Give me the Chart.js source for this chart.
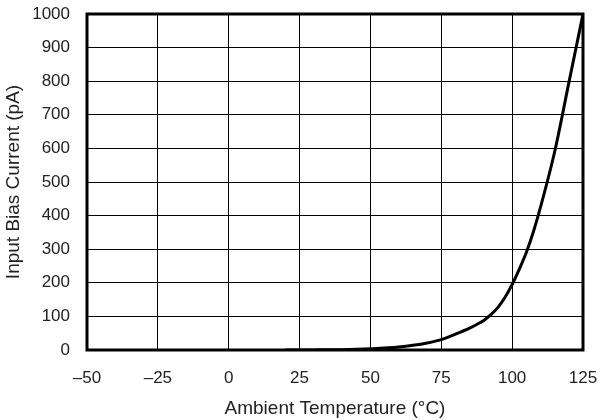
<!DOCTYPE html>
<html>
<head>
<meta charset="utf-8">
<script src="https://cdn.jsdelivr.net/npm/chart.js@4"></script>
<style>
  html, body { margin: 0; padding: 0; background: #fff; }
  #wrap { width: 600px; height: 420px; }
</style>
</head>
<body>
<div id="wrap"><canvas id="chart"></canvas></div>
<script>
// Input bias current vs ambient temperature
const temps = [20, 30, 40, 45, 50, 55, 60, 65, 70, 75, 80, 85, 87.5, 90, 92.5, 95, 97.5, 100, 102.5, 105, 107.5, 110, 115, 120, 125];
const biasPA = [0, 0.3, 1, 2, 3.5, 6, 9, 14, 21, 31, 47, 65, 76, 88, 105, 127, 157, 195, 240, 290, 352, 425, 590, 795, 1000];

const xMin = -50, xMax = 125, xStep = 25;
const yMin = 0, yMax = 1000, yStep = 100;

const textColor = '#222';
const tickFont = { family: '"Liberation Sans", Arial, sans-serif', size: 17 };
const titleFont = { family: '"Liberation Sans", Arial, sans-serif', size: 19 };

// thick frame round the plot area
const frame = {
    id: 'frame',
    afterDatasetsDraw(chart) {
        const { ctx, chartArea: a } = chart;
        ctx.save();
        ctx.strokeStyle = '#000';
        ctx.lineWidth = 3;
        ctx.strokeRect(a.left, a.top, a.right - a.left, a.bottom - a.top);
        ctx.restore();
    }
};

new Chart(document.getElementById('chart').getContext('2d'), {
    type: 'scatter',
    data: {
        datasets: [{
            label: 'Input Bias Current',
            data: temps.map((t, i) => ({ x: t, y: biasPA[i] })),
            showLine: true,
            borderColor: '#000',
            borderWidth: 3,
            pointRadius: 0,
            cubicInterpolationMode: 'monotone',
            fill: false
        }]
    },
    options: {
        responsive: true,
        maintainAspectRatio: false,
        animation: false,
        layout: { padding: { top: 14, right: 17, left: 2, bottom: 0 } },
        plugins: {
            legend: { display: false },
            tooltip: { enabled: false }
        },
        scales: {
            x: {
                type: 'linear',
                min: xMin,
                max: xMax,
                grid: { color: '#000', lineWidth: 1, drawTicks: false },
                border: { display: false },
                ticks: {
                    stepSize: xStep,
                    color: textColor,
                    font: tickFont,
                    padding: 18,
                    maxRotation: 0,
                    callback: v => (v < 0 ? '\u2013' + Math.abs(v) : String(v))
                },
                title: {
                    display: true,
                    text: 'Ambient Temperature (\u00B0C)',
                    color: textColor,
                    font: titleFont,
                    padding: { top: 6, bottom: 0 }
                },
                afterFit: s => { s.height = 70; s.paddingLeft = 0; s.paddingRight = 0; }
            },
            y: {
                min: yMin,
                max: yMax,
                grid: { color: '#000', lineWidth: 1, drawTicks: false },
                border: { display: false },
                ticks: {
                    stepSize: yStep,
                    color: textColor,
                    font: tickFont,
                    padding: 17,
                    callback: v => String(v)
                },
                title: {
                    display: true,
                    text: 'Input Bias Current (pA)',
                    color: textColor,
                    font: titleFont,
                    padding: { top: 0, bottom: 0 }
                },
                afterFit: s => { s.width = 85; s.paddingTop = 0; s.paddingBottom = 0; }
            }
        }
    },
    plugins: [frame]
});
</script>
</body>
</html>
